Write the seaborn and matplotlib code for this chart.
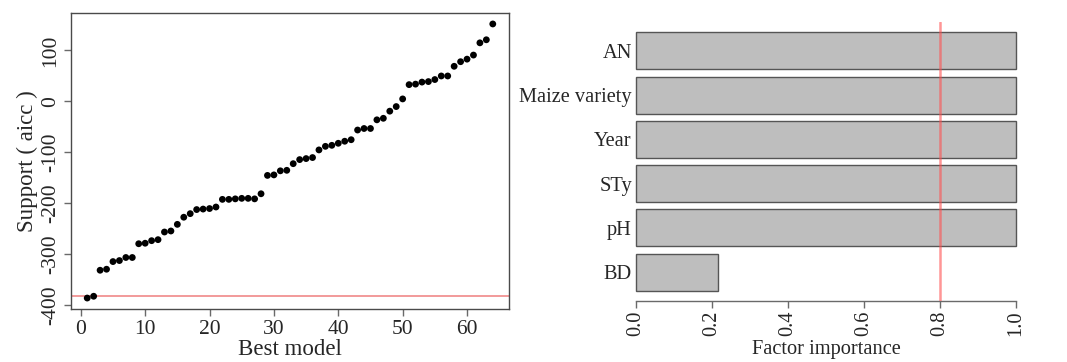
import numpy as np
import pandas as pd
import matplotlib
matplotlib.use("Agg")
import matplotlib.pyplot as plt
import seaborn as sns

# Model ranking: support (AICc) of each candidate model, sorted
model_rank = list(range(1, 65))
support_aicc = [
    -385.5, -382, -331, -329, -314, -312, -306, -306, -279, -278,
    -273, -271, -256, -254, -241, -227, -220, -212, -211, -210,
    -207, -192, -192, -191, -190, -190, -191, -181, -145, -144,
    -136, -135, -122, -114, -112, -110, -95, -88, -86, -82,
    -78, -75, -56, -53, -53, -36, -33, -19, -10, 5,
    33, 34, 38, 39, 43, 50, 50, 69, 78, 83,
    91, 115, 121, 152,
]
support_threshold = -382

# Relative importance of each factor across the model set
factors = ["AN", "Maize variety", "Year", "STy", "pH", "BD"]
importance = [1.0, 1.0, 1.0, 1.0, 1.0, 0.215]
importance_cutoff = 0.8

sns.set_style("white")
plt.rcParams["font.family"] = ["Liberation Serif", "DejaVu Serif"]

W, H = 1067, 362
fig = plt.figure(figsize=(W / 100, H / 100), dpi=100)

def box(x0, y0, x1, y1):
    return [x0 / W, 1 - y1 / H, (x1 - x0) / W, (y1 - y0) / H]

frame_col = "#4a4a4a"
tick_col = "#6a6a6a"

# ---- Left panel: support of each model ----
ax1 = fig.add_axes(box(71, 13, 509, 309))
df1 = pd.DataFrame({"model": model_rank, "aicc": support_aicc})
sns.scatterplot(data=df1, x="model", y="aicc", ax=ax1, color="black",
                s=24, edgecolor="none", linewidth=0, zorder=3)
ax1.axhline(support_threshold, color="#e84848", alpha=0.7, lw=1.1, zorder=2)

xlo, xhi = min(model_rank), max(model_rank)
ylo, yhi = min(support_aicc), max(support_aicc)
ax1.set_xlim(xlo - 0.04 * (xhi - xlo), xhi + 0.04 * (xhi - xlo))
ax1.set_ylim(ylo - 0.04 * (yhi - ylo), yhi + 0.04 * (yhi - ylo))
ax1.set_xticks(np.arange(0, 61, 10))
ax1.set_yticks(np.arange(-400, 101, 100))
ax1.set_yticklabels([str(v) for v in range(-400, 101, 100)],
                    rotation=90, va="center")
ax1.tick_params(axis="both", which="major", length=5, width=1,
                color=tick_col, labelsize=15.5, direction="out",
                left=True, bottom=True)
ax1.tick_params(axis="y", pad=3)
ax1.tick_params(axis="x", pad=3)
for sp in ax1.spines.values():
    sp.set_color(frame_col)
    sp.set_linewidth(1.0)
    sp.set_visible(True)
ax1.set_xlabel("Best model", fontsize=16.5, labelpad=0)
ax1.set_ylabel("Support ( aicc )", fontsize=16.5, labelpad=2)
ax1.grid(False)

# ---- Right panel: factor importance ----
ax2 = fig.add_axes(box(636 - 0.04 * 380, 22, 1016 + 0.04 * 380, 301))
df2 = pd.DataFrame({"factor": factors, "importance": importance})
sns.barplot(data=df2, y="factor", x="importance", order=factors, orient="h",
            ax=ax2, color="#bebebe", saturation=1, width=1 / 1.2,
            edgecolor="#555555", linewidth=1.0)
for p in ax2.patches:
    p.set_facecolor("#bebebe")
ax2.axvline(importance_cutoff, color="#ff5050", alpha=0.6, lw=1.8, zorder=5)
ax2.set_xlim(-0.04, 1.04)
ax2.set_ylim(len(factors) - 1 + 0.5 / 1.2 + 0.28 / 1.2, -0.5 / 1.2 - 0.28 / 1.2)
ax2.set_xticks(np.arange(0, 1.01, 0.2))
ax2.set_xticklabels([f"{v:.1f}" for v in np.arange(0, 1.01, 0.2)], rotation=90)
ax2.tick_params(axis="x", length=5, width=1, color=tick_col, labelsize=14.7,
                pad=2, bottom=True, direction="out")
ax2.tick_params(axis="y", length=0, labelsize=14.7, pad=-8)
for side in ["top", "right", "left"]:
    ax2.spines[side].set_visible(False)
ax2.spines["bottom"].set_visible(True)
ax2.spines["bottom"].set_bounds(0, 1)
ax2.spines["bottom"].set_color(tick_col)
ax2.spines["bottom"].set_linewidth(1.0)
ax2.set_xlabel("Factor importance", fontsize=14.7, labelpad=3)
ax2.set_ylabel("")
ax2.grid(False)

fig.savefig("out.png", dpi=100)
